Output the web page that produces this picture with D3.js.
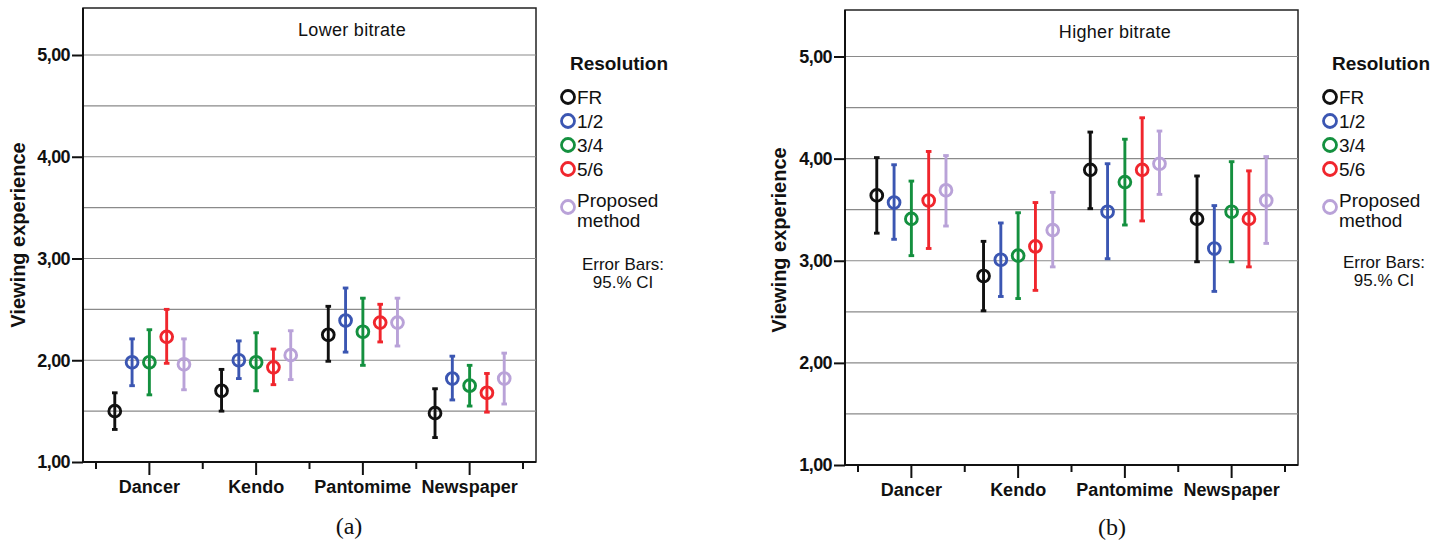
<!DOCTYPE html>
<html>
<head>
  <meta charset="utf-8">
  <title>Viewing experience - error bars</title>
  <style type="text/css">
    html, body { margin: 0; padding: 0; background: #fff; }
    svg { display: block; }
    text { font-family: "Liberation Sans", Arial, sans-serif; fill: #111; }
  </style>
  <script src="https://d3js.org/d3.v7.min.js"></script>
</head>
<body>
  <svg id="chart" width="1443" height="546"></svg>

  <script>
    // categories and series
    var categories = ["Dancer", "Kendo", "Pantomime", "Newspaper"];
    var series = ["FR", "1/2", "3/4", "5/6", "Proposed method"];
    var colors = ["#111111", "#3b56b2", "#14903f", "#f0262d", "#b9a2d8"];
    var yTicks = [1, 2, 3, 4, 5];
    var gridValues = [1.5, 2, 2.5, 3, 3.5, 4, 4.5, 5];

    // lower bitrate: [category][series]
    var lowMean = [[1.50, 1.98, 1.98, 2.23, 1.96], [1.70, 2.00, 1.98, 1.93, 2.05],
                   [2.25, 2.39, 2.28, 2.37, 2.37], [1.48, 1.82, 1.75, 1.68, 1.82]];
    var lowLo = [[1.32, 1.75, 1.66, 1.97, 1.71], [1.50, 1.82, 1.70, 1.76, 1.81],
                 [1.99, 2.08, 1.95, 2.18, 2.14], [1.24, 1.61, 1.55, 1.49, 1.57]];
    var lowHi = [[1.68, 2.21, 2.30, 2.50, 2.21], [1.91, 2.19, 2.27, 2.11, 2.29],
                 [2.53, 2.71, 2.61, 2.55, 2.61], [1.72, 2.04, 1.95, 1.87, 2.07]];

    // higher bitrate
    var highMean = [[3.64, 3.57, 3.41, 3.59, 3.69], [2.85, 3.01, 3.05, 3.14, 3.30],
                    [3.89, 3.48, 3.77, 3.89, 3.95], [3.41, 3.12, 3.48, 3.41, 3.59]];
    var highLo = [[3.27, 3.21, 3.05, 3.12, 3.34], [2.51, 2.65, 2.63, 2.71, 2.94],
                  [3.51, 3.02, 3.35, 3.39, 3.65], [2.99, 2.70, 2.99, 2.94, 3.17]];
    var highHi = [[4.01, 3.94, 3.78, 4.07, 4.03], [3.19, 3.37, 3.47, 3.57, 3.67],
                  [4.26, 3.95, 4.19, 4.40, 4.27], [3.83, 3.54, 3.97, 3.88, 4.02]];

    var svg = d3.select("#chart");
    var fmt = function (d) { return d.toFixed(2).replace(".", ","); };

    function drawPanel(cfg) {
      var g = svg.append("g");

      var y = d3.scaleLinear().domain([1, 5]).range([cfg.yBase, cfg.yFive]);
      var x = d3.scaleBand().domain(categories).range([cfg.x0 + 13, cfg.x1 - 13]).padding(0);
      var off = d3.scalePoint().domain(series).range([-34.6, 34.6]);

      // frame
      g.append("rect")
        .attr("x", cfg.x0).attr("y", cfg.yTop)
        .attr("width", cfg.x1 - cfg.x0).attr("height", cfg.yBase - cfg.yTop)
        .attr("fill", "none").attr("stroke", "#222").attr("stroke-width", 1.5);

      // gridlines
      g.selectAll(".grid")
        .data(gridValues)
        .join("line")
        .attr("class", "grid")
        .attr("x1", cfg.x0).attr("x2", cfg.x1)
        .attr("y1", d => y(d)).attr("y2", d => y(d))
        .attr("stroke", "#8a8a8a").attr("stroke-width", 1.2);

      // y axis
      var yAxis = g.append("g")
        .attr("transform", "translate(" + cfg.x0 + ",0)")
        .call(d3.axisLeft(y).tickValues(yTicks).tickFormat(fmt).tickSize(11).tickPadding(2));
      yAxis.select(".domain").attr("stroke", "#111").attr("stroke-width", 2)
        .attr("d", "M0," + cfg.yTop + "V" + cfg.yBase);
      yAxis.selectAll(".tick line").attr("stroke", "#111").attr("stroke-width", 2);
      yAxis.selectAll(".tick text")
        .attr("font-family", "Liberation Sans, Arial, sans-serif")
        .attr("font-size", 18).attr("font-weight", "bold").attr("fill", "#111")
        .attr("letter-spacing", -0.6);

      // x axis: major ticks at category centres, minor ticks at band edges
      var xAxis = g.append("g")
        .attr("transform", "translate(0," + cfg.yBase + ")")
        .call(d3.axisBottom(x).tickSize(13).tickPadding(5));
      xAxis.select(".domain").attr("stroke", "#111").attr("stroke-width", 2)
        .attr("d", "M" + cfg.x0 + ",0H" + cfg.x1);
      xAxis.selectAll(".tick line").attr("stroke", "#111").attr("stroke-width", 2);
      xAxis.selectAll(".tick text")
        .attr("font-family", "Liberation Sans, Arial, sans-serif")
        .attr("font-size", 18).attr("font-weight", "bold").attr("fill", "#111");

      var edges = categories.map(c => x(c)).concat([x.range()[1]]);
      g.selectAll(".minor")
        .data(edges)
        .join("line")
        .attr("class", "minor")
        .attr("x1", d => d).attr("x2", d => d)
        .attr("y1", cfg.yBase).attr("y2", cfg.yBase + 7)
        .attr("stroke", "#111").attr("stroke-width", 2);

      // points + error bars
      var pts = [];
      categories.forEach(function (c, ci) {
        series.forEach(function (s, si) {
          pts.push({ c: c, s: s, si: si, m: cfg.mean[ci][si], lo: cfg.lo[ci][si], hi: cfg.hi[ci][si] });
        });
      });
      var cx = d => x(d.c) + x.bandwidth() / 2 + off(d.s);

      var bars = g.selectAll(".bar").data(pts).join("g").attr("class", "bar")
        .attr("stroke", d => colors[d.si]).attr("stroke-width", 2.9).attr("fill", "none");
      bars.append("line")
        .attr("x1", cx).attr("x2", cx)
        .attr("y1", d => y(d.lo)).attr("y2", d => y(d.hi));
      bars.append("line")
        .attr("x1", d => cx(d) - 2.8).attr("x2", d => cx(d) + 2.8)
        .attr("y1", d => y(d.hi)).attr("y2", d => y(d.hi));
      bars.append("line")
        .attr("x1", d => cx(d) - 2.8).attr("x2", d => cx(d) + 2.8)
        .attr("y1", d => y(d.lo)).attr("y2", d => y(d.lo));
      bars.append("circle")
        .attr("cx", cx).attr("cy", d => y(d.m)).attr("r", 5.9);

      // panel title
      g.append("text")
        .attr("x", cfg.titleX).attr("y", cfg.titleY)
        .attr("text-anchor", "middle").attr("font-size", 18)
        .attr("letter-spacing", 0.3)
        .text(cfg.title);

      // y title
      g.append("text")
        .attr("transform", "translate(" + cfg.yTitleX + "," + cfg.yTitleY + ") rotate(-90)")
        .attr("text-anchor", "middle").attr("font-size", 20).attr("font-weight", "bold")
        .text("Viewing experience");

      // caption
      g.append("text")
        .attr("x", cfg.capX).attr("y", cfg.capY)
        .attr("text-anchor", "middle").attr("font-size", 24)
        .style("font-family", "Liberation Serif, Times New Roman, serif")
        .text(cfg.caption);

      // legend
      var lg = g.append("g").attr("transform", "translate(" + cfg.legX + ",0)");
      lg.append("text")
        .attr("x", 51).attr("y", 70).attr("text-anchor", "middle")
        .attr("font-size", 19).attr("font-weight", "bold")
        .text("Resolution");
      var legY = [97, 121, 145, 169, 207];
      series.forEach(function (s, i) {
        lg.append("circle")
          .attr("cx", 0).attr("cy", legY[i]).attr("r", 6.5)
          .attr("fill", "none").attr("stroke", colors[i]).attr("stroke-width", 2.8);
        if (i < 4) {
          lg.append("text").attr("x", 9).attr("y", legY[i] + 7).attr("font-size", 19).text(s);
        } else {
          var words = s.split(" ");
          lg.append("text").attr("x", 9).attr("y", legY[i]).attr("font-size", 19).text(words[0]);
          lg.append("text").attr("x", 9).attr("y", legY[i] + 20).attr("font-size", 19).text(words[1]);
        }
      });
      lg.append("text").attr("x", cfg.ebX).attr("y", cfg.ebY).attr("text-anchor", "middle")
        .attr("font-size", 17).text("Error Bars:");
      lg.append("text").attr("x", cfg.ebX).attr("y", cfg.ebY + 18).attr("text-anchor", "middle")
        .attr("font-size", 17).text("95.% CI");
    }

    drawPanel({
      x0: 83, x1: 536, yTop: 8, yBase: 462, yFive: 55,
      mean: lowMean, lo: lowLo, hi: lowHi,
      title: "Lower bitrate", titleX: 352, titleY: 36,
      yTitleX: 25, yTitleY: 235,
      caption: "(a)", capX: 349, capY: 534,
      legX: 568, ebX: 55, ebY: 270
    });

    drawPanel({
      x0: 845, x1: 1298, yTop: 10, yBase: 465, yFive: 56.5,
      mean: highMean, lo: highLo, hi: highHi,
      title: "Higher bitrate", titleX: 1115, titleY: 38,
      yTitleX: 786, yTitleY: 240,
      caption: "(b)", capX: 1112, capY: 535,
      legX: 1330, ebX: 54, ebY: 268
    });
  </script>
</body>
</html>
